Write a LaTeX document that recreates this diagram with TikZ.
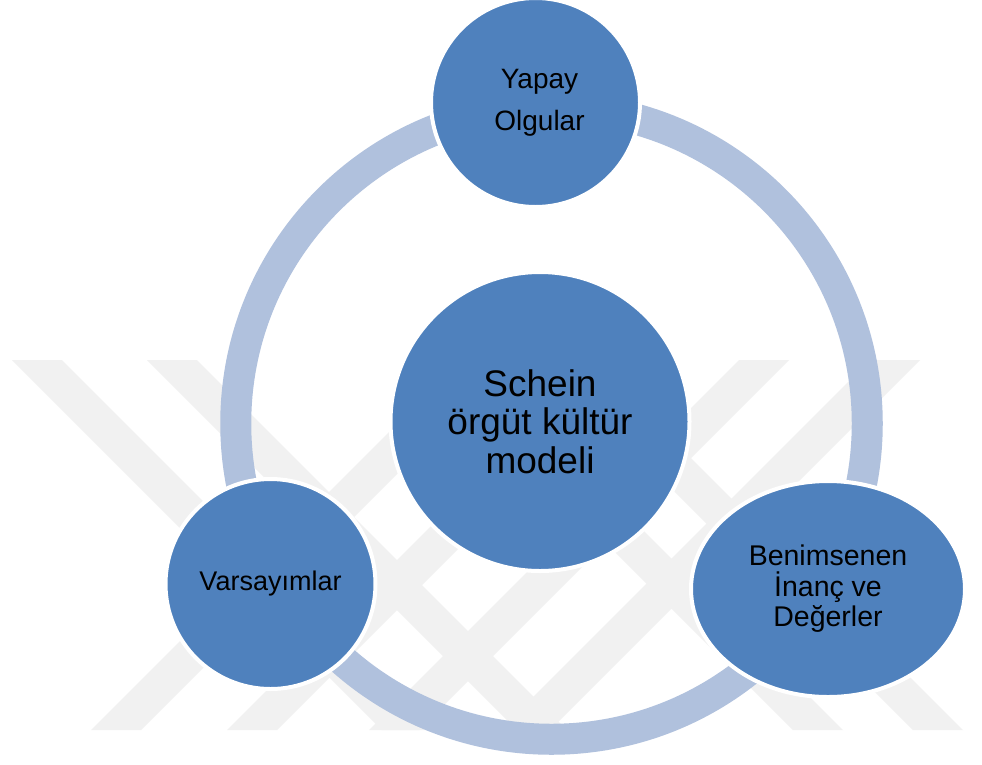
\documentclass[tikz,border=0pt]{standalone}
\usepackage{fontspec}
\setmainfont{Liberation Sans}
\usetikzlibrary{shapes.geometric}
\definecolor{nodeblue}{RGB}{79,129,189}
\definecolor{ringblue}{RGB}{176,193,221}
\definecolor{wmgray}{RGB}{241,241,241}
\tikzset{
  bubble/.style={circle, fill=nodeblue, draw=white, line width=4pt, align=center, text=black, inner sep=0pt},
  wmstripe/.style={fill=wmgray, draw=none},
  ringline/.style={draw=ringblue, line width=31pt},
}
\begin{document}
\begin{tikzpicture}[x=1pt,y=-1pt]
\useasboundingbox (0,0) rectangle (982,764);
\fill[white] (0,0) rectangle (982,764);
% watermark stripes
\foreach \a in {12,147,423,543}
  \fill[wmstripe] (\a,360) -- ++(50,0) -- ++(370,370) -- ++(-50,0) -- cycle;
\foreach \b in {91,227,369,500}
  \fill[wmstripe] (\b,730) -- ++(50,0) -- ++(370,-370) -- ++(-50,0) -- cycle;
% ring
\coordinate (rc) at (551.5,423.5);
\draw[ringline] (rc) circle[radius=315.75pt];
% nodes
\node[bubble, minimum size=209pt] (yapay) at (535.5,102.5) {};
\node[font=\fontsize{28}{42}\selectfont, align=center, inner sep=0pt] (yapaytxt) at ([xshift=4pt]yapay.center) {Yapay\\Olgular};
\node[bubble, minimum size=299pt, font=\fontsize{37}{38.5}\selectfont] (schein) at (540,421.5) {Schein\\örgüt kültür\\modeli};
\node[bubble, minimum size=210pt, font=\fontsize{27}{30}\selectfont] (vars) at (270.5,584) {Varsayımlar};
\node[bubble, ellipse, minimum width=274pt, minimum height=216pt, font=\fontsize{28.5}{30.5}\selectfont] (benim) at (828,589) {Benimsenen\\İnanç ve\\Değerler};
\end{tikzpicture}
\end{document}
